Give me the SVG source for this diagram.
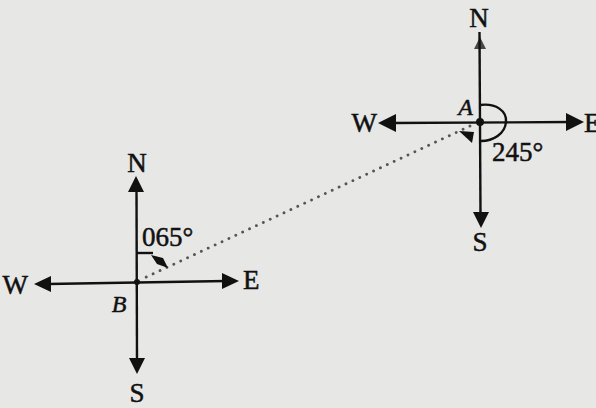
<svg xmlns="http://www.w3.org/2000/svg" width="596" height="408" viewBox="0 0 596 408">
  <style>
    .ln { stroke: #111; stroke-width: 2.4; fill: none; }
    .hd { fill: #111; }
    .t { font-family: "Liberation Serif", "Times New Roman", serif; font-size: 27px; fill: #111; stroke: #111; stroke-width: 0.5; }
    .it { font-style: italic; font-size: 24px; }
    .dot { stroke: #555; stroke-width: 2.8; stroke-linecap: round; stroke-dasharray: 0.1 7.5; fill: none; }
  </style>
  <rect width="596" height="408" fill="#e7e7e6"/>

  <g id="connectors">
    <path class="dot" d="M470,126 L142,279"/>
  </g>

  <g id="compass-A">
    <path class="ln" d="M479.5,32 L480.5,216"/>
    <path class="ln" d="M392,123 L572,122"/>
    <polygon class="hd" fill-opacity="0.75" points="480,37 474,49 486,49"/>
    <polygon class="hd" points="481,228 473,212 489,212"/>
    <polygon class="hd" points="378,123 396,114 396,132"/>
    <polygon class="hd" points="584,122 566,113 566,131"/>
    <circle cx="480" cy="122" r="4" class="hd"/>
    <path class="ln" d="M480,105 C496,103 507,111 506,122 C505,134 493,141 481,141"/>
    <polygon class="hd" points="459,131 474,132 472,143"/>
    <text class="t" x="479" y="27" text-anchor="middle">N</text>
    <text class="t" x="480" y="251" text-anchor="middle">S</text>
    <text class="t" x="377" y="132" text-anchor="end">W</text>
    <text class="t" x="584" y="132">E</text>
    <text class="t it" x="473" y="115" text-anchor="end">A</text>
    <text class="t" x="492" y="161">245°</text>
  </g>

  <g id="compass-B">
    <path class="ln" d="M136.5,190 L137,362"/>
    <path class="ln" d="M48,284 L226,281"/>
    <polygon class="hd" points="136,176 128,192 144,192"/>
    <polygon class="hd" points="137,374 129,358 145,358"/>
    <polygon class="hd" points="34,284 51,276 51,292"/>
    <polygon class="hd" points="239,281 222,273 222,289"/>
    <circle cx="137" cy="282" r="3" class="hd"/>
    <path class="ln" d="M137,253 L153,253"/>
    <polygon class="hd" points="151,255 163,258 168,268 157,264"/>
    <text class="t" x="137" y="172" text-anchor="middle">N</text>
    <text class="t" x="137" y="402" text-anchor="middle">S</text>
    <text class="t" x="28" y="294" text-anchor="end">W</text>
    <text class="t" x="243" y="289">E</text>
    <text class="t it" x="119" y="312" text-anchor="middle">B</text>
    <text class="t" x="142" y="246">065°</text>
  </g>
</svg>
